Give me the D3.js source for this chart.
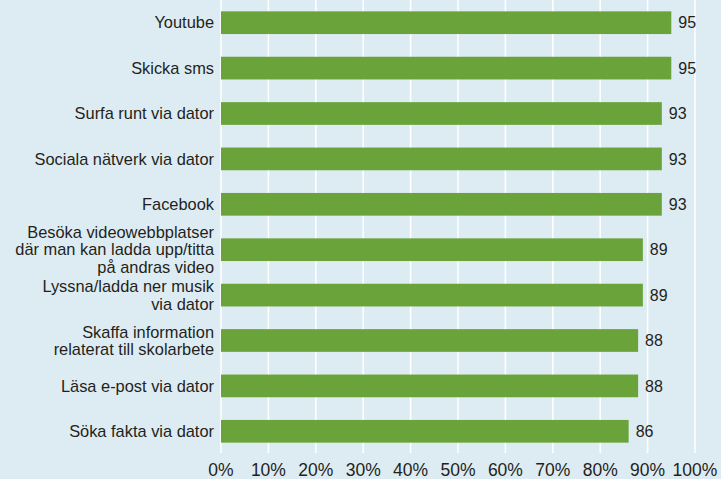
<!DOCTYPE html>
<html>
<head>
<meta charset="utf-8">
<script src="https://cdn.jsdelivr.net/npm/d3@7"></script>
<style>
  html, body { margin: 0; padding: 0; background: #ddecf3; }
  svg { display: block; font-family: "Liberation Sans", Arial, sans-serif; }
</style>
</head>
<body>
<div id="chart"></div>
<script>
const categories = [
    ["Youtube"],
    ["Skicka sms"],
    ["Surfa runt via dator"],
    ["Sociala nätverk via dator"],
    ["Facebook"],
    ["Besöka videowebbplatser", "där man kan ladda upp/titta", "på andras video"],
    ["Lyssna/ladda ner musik", "via dator"],
    ["Skaffa information", "relaterat till skolarbete"],
    ["Läsa e-post via dator"],
    ["Söka fakta via dator"]
]
const values = [95, 95, 93, 93, 93, 89, 89, 88, 88, 86]
const ticks = [0, 10, 20, 30, 40, 50, 60, 70, 80, 90, 100]

const width = 721
const height = 479
const margin = { top: 0, left: 221, right: 26, bottom: 26 }

const svg = d3.select("#chart")
    .append("svg")
    .attr("width", width)
    .attr("height", height)

svg.append("rect")
    .attr("width", width)
    .attr("height", height)
    .attr("fill", "#ddecf3")

const x = d3.scaleLinear()
    .domain([0, 100])
    .range([margin.left, width - margin.right])

const y = d3.scaleBand()
    .domain(d3.range(values.length))
    .range([0, 454])
    .paddingInner(0.5)
    .paddingOuter(0.25)

// vertical grid lines
svg.selectAll(".grid")
    .data(ticks)
    .enter()
    .append("line")
    .attr("x1", d => x(d))
    .attr("x2", d => x(d))
    .attr("y1", 0)
    .attr("y2", 453)
    .attr("stroke", "#ffffff")
    .attr("stroke-width", 1.5)

// bars
svg.selectAll(".bar")
    .data(values)
    .enter()
    .append("rect")
    .attr("x", x(0))
    .attr("y", (d, i) => y(i))
    .attr("width", d => x(d) - x(0))
    .attr("height", y.bandwidth())
    .attr("fill", "#69a33a")

// value labels
svg.selectAll(".val")
    .data(values)
    .enter()
    .append("text")
    .attr("x", d => x(d) + 7)
    .attr("y", (d, i) => y(i) + y.bandwidth() / 2)
    .attr("dy", "0.35em")
    .attr("font-size", 16)
    .attr("fill", "#241f1b")
    .text(d => d)

// category labels (multi-line)
const lineH = 17.5
const labels = svg.selectAll(".cat")
    .data(categories)
    .enter()
    .append("text")
    .attr("text-anchor", "end")
    .attr("font-size", 16.4)
    .attr("fill", "#241f1b")
    .attr("transform", (d, i) => `translate(${x(0) - 7},${y(i) + y.bandwidth() / 2})`)

labels.selectAll("tspan")
    .data(d => d.map((t, k) => ({ t, k, n: d.length })))
    .enter()
    .append("tspan")
    .attr("x", 0)
    .attr("y", d => (d.k - (d.n - 1) / 2) * lineH)
    .attr("dy", "0.35em")
    .text(d => d.t)

// x axis tick labels
svg.selectAll(".tick")
    .data(ticks)
    .enter()
    .append("text")
    .attr("x", d => x(d))
    .attr("y", 476)
    .attr("text-anchor", "middle")
    .attr("font-size", 17.5)
    .attr("fill", "#241f1b")
    .text(d => d + "%")
</script>
</body>
</html>
